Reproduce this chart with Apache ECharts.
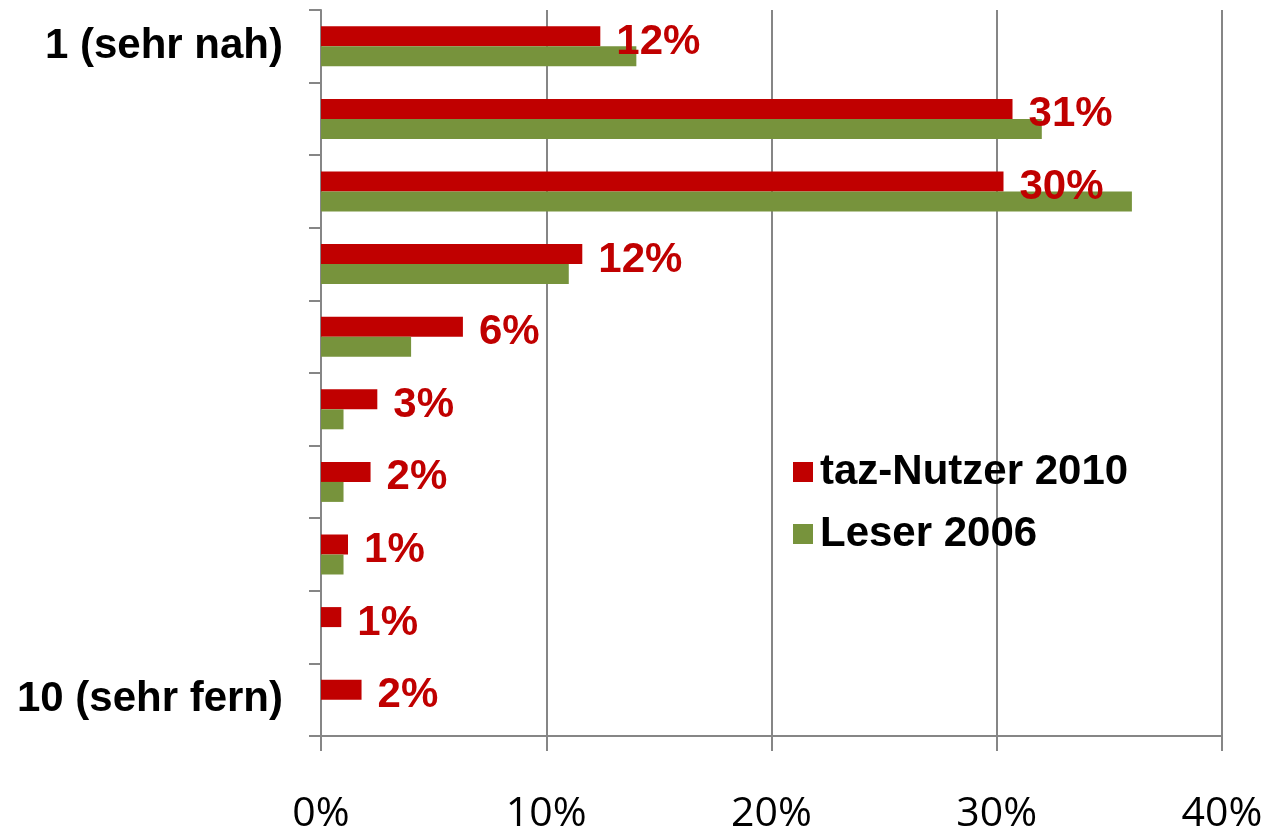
<!DOCTYPE html>
<html>
<head>
<meta charset="utf-8">
<script src="https://cdn.jsdelivr.net/npm/echarts@6/dist/echarts.min.js"></script>
<style>
  html, body { margin: 0; padding: 0; background: #fff; }
  #chart { width: 1267px; height: 835px; }
</style>
</head>
<body>
<div id="chart"></div>
<script>
// Kategorien (1 = sehr nah ... 10 = sehr fern)
const categories = ['1 (sehr nah)', '2', '3', '4', '5', '6', '7', '8', '9', '10 (sehr fern)'];
// Anteile in %
const tazNutzer2010 = [12.4, 30.7, 30.3, 11.6, 6.3, 2.5, 2.2, 1.2, 0.9, 1.8];
const leser2006 = [14.0, 32.0, 36.0, 11.0, 4.0, 1.0, 1.0, 1.0, 0, 0];
const xTicks = [0, 10, 20, 30, 40];

const chart = echarts.init(document.getElementById('chart'));
const axisGrey = '#868686';

const option = {
  animation: false,
  grid: { left: 321, right: 45, top: 10, bottom: 97 },
  legend: {
    orient: 'vertical',
    left: 788,
    top: 446,
    itemWidth: 20,
    itemHeight: 20,
    itemGap: 20,
    icon: 'rect',
    textStyle: { fontFamily: 'Liberation Sans', fontWeight: 'bold', fontSize: 42, color: '#000', padding: [0, 0, 0, 2] },
    data: ['taz-Nutzer 2010', 'Leser 2006']
  },
  xAxis: {
    type: 'value',
    min: xTicks[0],
    max: xTicks[xTicks.length - 1],
    interval: 10,
    axisLine: { show: true, lineStyle: { color: axisGrey, width: 2 } },
    axisTick: { show: true, length: 15, lineStyle: { color: axisGrey, width: 2 } },
    splitLine: { show: true, lineStyle: { color: axisGrey, width: 2 } },
    axisLabel: {
      margin: 58,
      color: '#000',
      fontFamily: 'Open Sans',
      fontSize: 41,
      formatter: v => v + '%'
    }
  },
  yAxis: {
    type: 'category',
    inverse: true,
    data: categories,
    axisLine: { show: true, lineStyle: { color: axisGrey, width: 2 } },
    axisTick: { show: true, length: 12, lineStyle: { color: axisGrey, width: 2 } },
    axisLabel: {
      margin: 38,
      color: '#000',
      fontFamily: 'Liberation Sans',
      fontWeight: 'bold',
      fontSize: 42,
      formatter: v => (v.indexOf('(') !== -1 ? v : '')
    }
  },
  series: [
    {
      name: 'taz-Nutzer 2010',
      type: 'bar',
      data: tazNutzer2010,
      barWidth: 20,
      barGap: '0%',
      itemStyle: { color: '#C00000' },
      label: {
        show: true,
        position: 'right',
        distance: 16,
        offset: [0, 6],
        color: '#C00000',
        fontFamily: 'Liberation Sans',
        fontWeight: 'bold',
        fontSize: 42,
        formatter: p => Math.round(p.value) + '%'
      }
    },
    {
      name: 'Leser 2006',
      type: 'bar',
      data: leser2006,
      barWidth: 20,
      barGap: '0%',
      itemStyle: { color: '#77933C' }
    }
  ]
};

chart.setOption(option);
window.addEventListener('resize', function () {
  chart.resize();
});
</script>
</body>
</html>
